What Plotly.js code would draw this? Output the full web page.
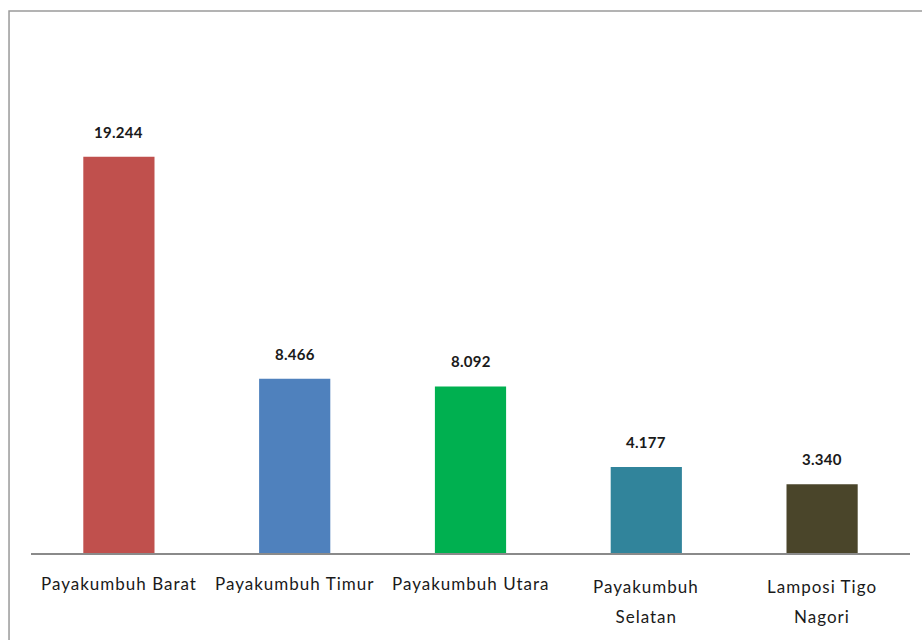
<!DOCTYPE html>
<html>
<head>
<meta charset="utf-8">
<script src="https://cdn.plot.ly/plotly-3.0.1.min.js"></script>
<style>
  html, body { margin: 0; padding: 0; background: #ffffff; }
  #chart { width: 922px; height: 640px; }
  #chart .annotation-text { letter-spacing: 1px; }
</style>
</head>
<body>
<div id="chart"></div>
<script>
// Kecamatan di Kota Payakumbuh
const categories = ["Payakumbuh Barat", "Payakumbuh Timur", "Payakumbuh Utara", "Payakumbuh Selatan", "Lamposi Tigo Nagori"];
// Axis label lines under each bar
const tickLines = [["Payakumbuh Barat"], ["Payakumbuh Timur"], ["Payakumbuh Utara"], ["Payakumbuh", "Selatan"], ["Lamposi Tigo", "Nagori"]];
const values = [19.244, 8.466, 8.092, 4.177, 3.340];
const valueLabels = ["19.244", "8.466", "8.092", "4.177", "3.340"];
const barColors = ["#C0504D", "#4F81BD", "#00B050", "#31849B", "#4A452A"];

const fontFamily = "Lato, 'Open Sans', sans-serif";

const annotations = [];
categories.forEach((c, i) => {
  // value label above the bar, drawn without the extra tracking
  annotations.push({
    x: c, y: values[i], xref: "x", yref: "y",
    text: '<span style="letter-spacing:0.3px"><b>' + valueLabels[i] + '</b></span>',
    showarrow: false, yanchor: "bottom", yshift: 14,
    font: { family: fontFamily, size: 15, color: "#1a1a1a" }
  });
  const lines = tickLines[i];
  lines.forEach((line, j) => {
    annotations.push({
      x: c, y: 0, xref: "x", yref: "paper",
      text: line, showarrow: false, yanchor: "middle",
      yshift: (lines.length === 1 ? -30 : -33) - 30 * j,
      font: { family: fontFamily, size: 17, color: "#1a1a1a" }
    });
  });
});

const data = [{
  type: "bar",
  x: categories,
  y: values,
  marker: { color: barColors, line: { width: 0 } },
  hoverinfo: "x+y"
}];

const layout = {
  width: 922, height: 640,
  margin: { l: 31, r: 12, t: 100, b: 87 },
  paper_bgcolor: "#ffffff",
  plot_bgcolor: "#ffffff",
  showlegend: false,
  bargap: 0.595,
  xaxis: {
    type: "category",
    showticklabels: false,
    ticks: "",
    showgrid: false,
    showline: true, linecolor: "#8a8a8a", linewidth: 1.5,
    zeroline: false
  },
  yaxis: {
    range: [0, 22],
    visible: false,
    showgrid: false, zeroline: false
  },
  annotations: annotations,
  shapes: [{
    type: "rect", xref: "paper", yref: "paper",
    x0: -0.025, x1: 1.1, y0: -0.4, y1: 1.1965,
    line: { color: "#9a9a9a", width: 1.5 },
    fillcolor: "rgba(0,0,0,0)",
    layer: "below"
  }]
};

Plotly.newPlot("chart", data, layout, { displayModeBar: false, staticPlot: true });
</script>
</body>
</html>
